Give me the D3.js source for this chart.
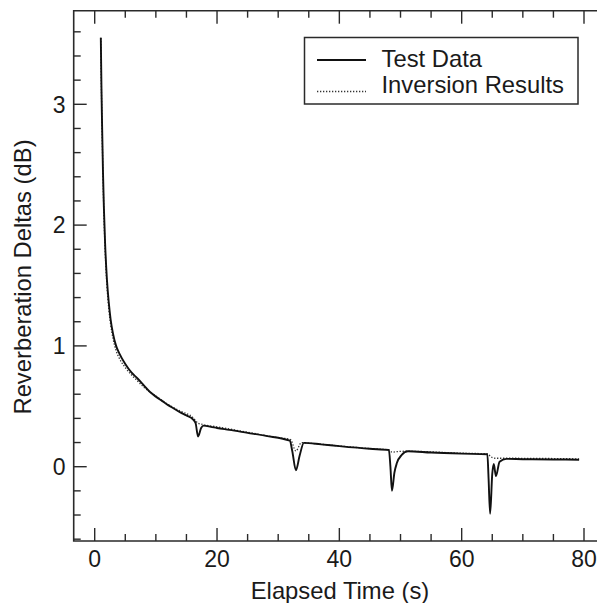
<!DOCTYPE html>
<html>
<head>
<meta charset="utf-8">
<script src="https://cdn.jsdelivr.net/npm/d3@7"></script>
<style>
  html, body { margin: 0; padding: 0; background: #fff; }
  svg { display: block; }
  text { font-family: "Liberation Sans", Arial, Helvetica, sans-serif; fill: #1a1a1a; }
</style>
</head>
<body>
<svg id="chart" width="597" height="603"></svg>
<script>
// ---- data ----
const testTime = [1.0, 1.1, 1.2, 1.35, 1.5, 1.7, 2.0, 2.3, 2.6, 3.0, 3.5, 4.0, 5.0, 6.0, 7.0, 8.0, 9.0, 10, 11, 12, 13, 14, 15, 16.1,
  16.5, 16.9, 17.4, 17.8, 19, 20, 22, 25, 28, 31.9,
  32.3, 32.9, 33.5, 34.2, 37, 40, 45, 48.1,
  48.35, 48.6, 49.0, 49.4, 50.2, 51.2, 55, 60, 64.2,
  64.4, 64.65, 65.0, 65.25, 65.6, 66.2, 67.3, 70, 75, 79.2];
const testValue = [3.55, 3.15, 2.85, 2.45, 2.15, 1.85, 1.55, 1.36, 1.22, 1.10, 1.00, 0.94, 0.85, 0.78, 0.73, 0.675, 0.62, 0.58, 0.545, 0.51, 0.48, 0.45, 0.425, 0.39,
  0.36, 0.25, 0.32, 0.34, 0.33, 0.32, 0.305, 0.28, 0.255, 0.215,
  0.13, -0.03, 0.09, 0.197, 0.185, 0.17, 0.148, 0.138,
  0.0, -0.2, -0.05, 0.03, 0.097, 0.128, 0.117, 0.108, 0.103,
  -0.1, -0.39, -0.06, 0.022, -0.078, 0.041, 0.065, 0.062, 0.06, 0.058];

const invTime = [1.0, 1.1, 1.2, 1.35, 1.5, 1.7, 2.0, 2.3, 2.6, 3.0, 3.5, 4.0, 5.0, 6.0, 7.0, 8.0, 9.0, 10, 12, 14, 16,
  16.9, 17.6, 20, 25, 30, 32.0, 32.9, 33.8, 35, 40, 45, 48.1, 48.6, 49.5, 51, 60, 64.3, 64.7, 65.5, 67, 79.2];
const invValue = [3.55, 3.12, 2.82, 2.42, 2.10, 1.80, 1.50, 1.31, 1.18, 1.06, 0.96, 0.90, 0.82, 0.76, 0.71, 0.66, 0.62, 0.585, 0.515, 0.46, 0.41,
  0.36, 0.35, 0.33, 0.285, 0.24, 0.225, 0.13, 0.2, 0.195, 0.172, 0.15, 0.14, 0.12, 0.125, 0.128, 0.112, 0.106, 0.085, 0.07, 0.07, 0.065];

const xTicks = [0, 20, 40, 60, 80];
const yTicks = [0, 1, 2, 3];
const legendLabels = ["Test Data", "Inversion Results"];
const xTitle = "Elapsed Time (s)";
const yTitle = "Reverberation Deltas (dB)";

// ---- layout ----
const svg = d3.select("#chart");
const frame = { left: 73.7, right: 600, top: 10.7, bottom: 541 };
const x = d3.scaleLinear().domain([0, 80]).range([94.7, 584]);
const y = d3.scaleLinear().domain([0, 3]).range([466.7, 104.3]);
const ink = "#2a2a2a";

// frame
svg.append("path")
  .attr("d", `M${frame.right},${frame.top}H${frame.left}V${frame.bottom}H${frame.right}`)
  .attr("fill", "none").attr("stroke", ink).attr("stroke-width", 1.6);

// ticks (inward)
const xMinor = d3.range(0, 81, 5).filter(v => v % 20 !== 0);
const yMinor = d3.range(-0.6, 3.8, 0.2).map(v => Math.round(v * 10) / 10).filter(v => Math.abs(v - Math.round(v)) > 1e-6);
const tk = svg.append("g").attr("stroke", ink).attr("stroke-width", 1.4);
xTicks.forEach(v => {
  tk.append("line").attr("x1", x(v)).attr("x2", x(v)).attr("y1", frame.bottom).attr("y2", frame.bottom - 13);
  tk.append("line").attr("x1", x(v)).attr("x2", x(v)).attr("y1", frame.top).attr("y2", frame.top + 13);
});
xMinor.forEach(v => {
  tk.append("line").attr("x1", x(v)).attr("x2", x(v)).attr("y1", frame.bottom).attr("y2", frame.bottom - 7);
  tk.append("line").attr("x1", x(v)).attr("x2", x(v)).attr("y1", frame.top).attr("y2", frame.top + 7);
});
yTicks.forEach(v => {
  tk.append("line").attr("x1", frame.left).attr("x2", frame.left + 13).attr("y1", y(v)).attr("y2", y(v));
});
yMinor.forEach(v => {
  tk.append("line").attr("x1", frame.left).attr("x2", frame.left + 7).attr("y1", y(v)).attr("y2", y(v));
});

// tick labels
const fsTick = 23;
const fs = 23.8;
svg.append("g").selectAll("text").data(xTicks).join("text")
  .attr("x", d => x(d)).attr("y", 566.5).attr("text-anchor", "middle")
  .attr("font-size", fsTick).text(d => d);
svg.append("g").selectAll("text").data(yTicks).join("text")
  .attr("x", 65.5).attr("y", d => y(d) + 8.2).attr("text-anchor", "end")
  .attr("font-size", fsTick).text(d => d);

// axis titles
svg.append("text").attr("x", 340).attr("y", 599).attr("text-anchor", "middle")
  .attr("font-size", fs).text(xTitle);
svg.append("text").attr("transform", "translate(31,277) rotate(-90)").attr("text-anchor", "middle")
  .attr("font-size", fs).text(yTitle);

// lines
const line = d3.line().x(d => x(d[0])).y(d => y(d[1])).curve(d3.curveMonotoneX);
const testData = testTime.map((t, i) => [t, testValue[i]]);
const invData = invTime.map((t, i) => [t, invValue[i]]);
svg.append("path").datum(invData).attr("d", line)
  .attr("fill", "none").attr("stroke", "#333").attr("stroke-width", 1.3)
  .attr("stroke-dasharray", "1.3,1.7");
svg.append("path").datum(testData).attr("d", line)
  .attr("fill", "none").attr("stroke", "#111").attr("stroke-width", 1.9)
  .attr("stroke-linejoin", "round");

// legend
const lg = svg.append("g");
lg.append("rect").attr("x", 304.5).attr("y", 37.5).attr("width", 273.5).attr("height", 66.5)
  .attr("fill", "#fff").attr("stroke", ink).attr("stroke-width", 1.5);
lg.append("line").attr("x1", 317).attr("x2", 366).attr("y1", 60).attr("y2", 60)
  .attr("stroke", "#111").attr("stroke-width", 1.9);
lg.append("line").attr("x1", 317).attr("x2", 366).attr("y1", 91.5).attr("y2", 91.5)
  .attr("stroke", "#333").attr("stroke-width", 1.3).attr("stroke-dasharray", "1.3,1.7");
lg.selectAll("text.lab").data(legendLabels).join("text").attr("class", "lab")
  .attr("x", 381.5).attr("y", (d, i) => 67 + i * 26).attr("font-size", fs).text(d => d);
</script>
</body>
</html>
